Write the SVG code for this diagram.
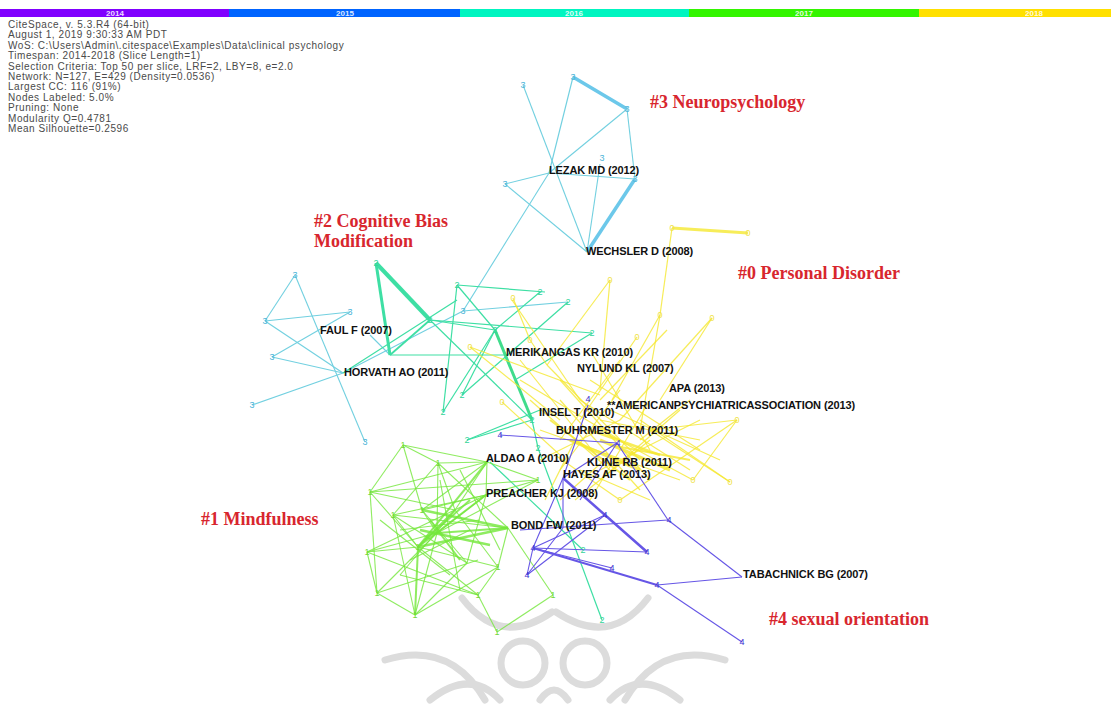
<svg xmlns="http://www.w3.org/2000/svg" width="1111" height="718" viewBox="0 0 1111 718">
<style>
.info{font-family:"Liberation Sans",Arial,sans-serif;font-size:10px;fill:#4a4a4a;letter-spacing:0.55px}
.yr{font-family:"Liberation Sans",Arial,sans-serif;font-size:8px;font-weight:bold;fill:#fff;text-anchor:middle;opacity:.85}
.cl{font-family:"Liberation Serif","Times New Roman",serif;font-size:18px;font-weight:bold;fill:#d8262e}
.lb{font-family:"Liberation Sans",Arial,sans-serif;font-size:11px;font-weight:bold;fill:#111;letter-spacing:-0.1px}
.n{font-family:"Liberation Sans",Arial,sans-serif;font-size:9px;text-anchor:middle}
.n0{fill:#efe24a}.n1{fill:#74d83a}.n2{fill:#33d49a}.n3{fill:#4cb4d8}.n4{fill:#3a2fd0}
.e0{stroke:#f6e930;stroke-width:1.2;opacity:.8}
.e1{stroke:#74e83a;stroke-width:1.1;opacity:.8}
.e2{stroke:#3edfa4;stroke-width:1.2}
.e3{stroke:#72d0e0;stroke-width:1.1}
.e4{stroke:#6656e6;stroke-width:1.1}
.wm{fill:none;stroke:#dcdcdc;stroke-width:7;stroke-linecap:round}
</style>
<rect width="1111" height="718" fill="#fff"/>
<g id="watermark">
<circle class="wm" cx="523" cy="663" r="22"/>
<circle class="wm" cx="585" cy="663" r="22"/>
<path class="wm" d="M462 598 Q500 648 552 612"/>
<path class="wm" d="M556 612 Q610 648 648 598"/>
<path class="wm" d="M385 660 Q450 640 485 700"/>
<path class="wm" d="M725 660 Q660 640 625 700"/>
<path class="wm" d="M430 700 Q470 668 500 700"/>
<path class="wm" d="M610 700 Q640 668 680 700"/>
<path class="wm" d="M540 700 Q554 680 568 700"/>
</g>
<g id="timeline">
<rect x="0" y="9" width="229" height="8" fill="#8000ff"/>
<rect x="229" y="9" width="231" height="8" fill="#0064ff"/>
<rect x="460" y="9" width="229" height="8" fill="#00f5c0"/>
<rect x="689" y="9" width="230" height="8" fill="#33f500"/>
<rect x="919" y="9" width="192" height="8" fill="#ffe000"/>
<text class="yr" x="115" y="16">2014</text>
<text class="yr" x="345" y="16">2015</text>
<text class="yr" x="574" y="16">2016</text>
<text class="yr" x="804" y="16">2017</text>
<text class="yr" x="1034" y="16">2018</text>
</g>
<g id="info">
<text class="info" x="8" y="28">CiteSpace, v. 5.3.R4 (64-bit)</text>
<text class="info" x="8" y="38.4">August 1, 2019 9:30:33 AM PDT</text>
<text class="info" x="8" y="48.8">WoS: C:\Users\Admin\.citespace\Examples\Data\clinical psychology</text>
<text class="info" x="8" y="59.2">Timespan: 2014-2018 (Slice Length=1)</text>
<text class="info" x="8" y="69.6">Selection Criteria: Top 50 per slice, LRF=2, LBY=8, e=2.0</text>
<text class="info" x="8" y="80">Network: N=127, E=429 (Density=0.0536)</text>
<text class="info" x="8" y="90.4">Largest CC: 116 (91%)</text>
<text class="info" x="8" y="100.8">Nodes Labeled: 5.0%</text>
<text class="info" x="8" y="111.2">Pruning: None</text>
<text class="info" x="8" y="121.6">Modularity Q=0.4781</text>
<text class="info" x="8" y="132">Mean Silhouette=0.2596</text>
</g>
<g id="connectors">
<!-- cluster 3 -->
<line class="e3" x1="523" y1="85" x2="587" y2="252"/>
<line class="e3" x1="573" y1="77" x2="627" y2="109" style="stroke-width:3.5;stroke:#6cc8ea"/>
<line class="e3" x1="573" y1="77" x2="549" y2="173"/>
<line class="e3" x1="627" y1="109" x2="549" y2="173"/>
<line class="e3" x1="627" y1="109" x2="635" y2="179"/>
<line class="e3" x1="549" y1="173" x2="635" y2="179"/>
<line class="e3" x1="505" y1="184" x2="549" y2="173"/>
<line class="e3" x1="505" y1="184" x2="587" y2="252"/>
<line class="e3" x1="600" y1="164" x2="587" y2="252"/>
<line class="e3" x1="635" y1="179" x2="587" y2="252" style="stroke-width:3.5;stroke:#6cc8ea"/>
<line class="e3" x1="549" y1="173" x2="463" y2="311"/>
<line class="e3" x1="463" y1="311" x2="343" y2="373"/>
<line class="e3" x1="295" y1="275" x2="265" y2="321"/>
<line class="e3" x1="295" y1="275" x2="365" y2="442"/>
<line class="e3" x1="265" y1="321" x2="350" y2="312"/>
<line class="e3" x1="265" y1="321" x2="343" y2="373"/>
<line class="e3" x1="350" y1="312" x2="272" y2="357"/>
<line class="e3" x1="272" y1="357" x2="343" y2="373"/>
<line class="e3" x1="252" y1="405" x2="343" y2="373"/>
<line class="e3" x1="370" y1="335" x2="390" y2="355"/>
<line class="e3" x1="463" y1="311" x2="568" y2="302"/>
<!-- cluster 2 -->
<line class="e2" x1="376" y1="263" x2="430" y2="320" style="stroke-width:4"/>
<line class="e2" x1="376" y1="263" x2="390" y2="355" style="stroke-width:3"/>
<line class="e2" x1="390" y1="355" x2="430" y2="320" style="stroke-width:1.8"/>
<line class="e2" x1="430" y1="320" x2="495" y2="330"/>
<line class="e2" x1="430" y1="320" x2="532" y2="420"/>
<line class="e2" x1="390" y1="355" x2="507" y2="355"/>
<line class="e2" x1="457" y1="285" x2="545" y2="292"/>
<line class="e2" x1="457" y1="285" x2="443" y2="412"/>
<line class="e2" x1="457" y1="285" x2="495" y2="330"/>
<line class="e2" x1="540" y1="292" x2="495" y2="330"/>
<line class="e2" x1="568" y1="302" x2="462" y2="395"/>
<line class="e2" x1="495" y1="330" x2="532" y2="420" style="stroke-width:3;stroke:#40dc8c"/>
<line class="e2" x1="462" y1="395" x2="495" y2="330"/>
<line class="e2" x1="443" y1="412" x2="495" y2="330"/>
<line class="e2" x1="467" y1="440" x2="532" y2="420"/>
<line class="e2" x1="467" y1="440" x2="540" y2="410"/>
<line class="e2" x1="532" y1="420" x2="538" y2="448"/>
<line class="e2" x1="538" y1="448" x2="602" y2="620"/>
<line class="e2" x1="592" y1="333" x2="515" y2="380"/>
<line class="e2" x1="430" y1="320" x2="592" y2="333"/>
<line class="e2" x1="343" y1="373" x2="457" y2="300"/>
<line class="e2" x1="490" y1="462" x2="583" y2="550"/>
<!-- cluster 0 -->
<line class="e0" x1="672" y1="228" x2="748" y2="233" style="stroke-width:3"/>
<line class="e0" x1="672" y1="228" x2="660" y2="315"/>
<line class="e0" x1="660" y1="315" x2="612" y2="400"/>
<line class="e0" x1="712" y1="318" x2="620" y2="420"/>
<line class="e0" x1="610" y1="280" x2="547" y2="365"/>
<line class="e0" x1="610" y1="280" x2="600" y2="390"/>
<line class="e0" x1="513" y1="298" x2="530" y2="340"/>
<line class="e0" x1="530" y1="340" x2="547" y2="365"/>
<line class="e0" x1="637" y1="337" x2="580" y2="420"/>
<line class="e0" x1="667" y1="330" x2="600" y2="400"/>
<line class="e0" x1="547" y1="365" x2="640" y2="460"/>
<line class="e0" x1="502" y1="402" x2="560" y2="455"/>
<line class="e0" x1="470" y1="347" x2="560" y2="420"/>
<line class="e0" x1="737" y1="420" x2="650" y2="430"/>
<line class="e0" x1="737" y1="420" x2="693" y2="480"/>
<line class="e0" x1="737" y1="420" x2="620" y2="500"/>
<line class="e0" x1="730" y1="482" x2="650" y2="430"/>
<line class="e0" x1="693" y1="480" x2="600" y2="430"/>
<line class="e0" x1="580" y1="400" x2="690" y2="470"/>
<line class="e0" x1="560" y1="380" x2="650" y2="480"/>
<line class="e0" x1="600" y1="420" x2="700" y2="440"/>
<line class="e0" x1="620" y1="390" x2="560" y2="470"/>
<line class="e0" x1="650" y1="400" x2="590" y2="500"/>
<line class="e0" x1="680" y1="410" x2="600" y2="480"/>
<line class="e0" x1="540" y1="430" x2="680" y2="480"/>
<line class="e0" x1="570" y1="440" x2="640" y2="470" style="stroke-width:3"/>
<line class="e0" x1="520" y1="380" x2="620" y2="440"/>
<line class="e0" x1="520" y1="360" x2="600" y2="460"/>
<line class="e0" x1="620" y1="360" x2="560" y2="440"/>
<line class="e0" x1="600" y1="440" x2="670" y2="470" style="stroke-width:3"/>
<line class="e0" x1="530" y1="400" x2="610" y2="470"/>
<line class="e0" x1="470" y1="347" x2="600" y2="395"/>
<line class="e0" x1="590" y1="380" x2="700" y2="450"/>
<line class="e0" x1="610" y1="410" x2="720" y2="460"/>
<line class="e0" x1="555" y1="455" x2="620" y2="500"/>
<line class="e0" x1="580" y1="470" x2="650" y2="500"/>
<line class="e0" x1="640" y1="420" x2="730" y2="482"/>
<line class="e0" x1="512" y1="300" x2="580" y2="400"/>
<line class="e0" x1="575" y1="440" x2="545" y2="500"/>
<line class="e0" x1="610" y1="455" x2="560" y2="500"/>
<line class="e0" x1="590" y1="430" x2="660" y2="455" style="stroke-width:2.5"/>
<line class="e0" x1="610" y1="445" x2="690" y2="460" style="stroke-width:2"/>
<line class="e0" x1="560" y1="400" x2="640" y2="490"/>
<line class="e0" x1="600" y1="470" x2="700" y2="420"/>
<line class="e0" x1="640" y1="440" x2="690" y2="400"/>
<line class="e0" x1="660" y1="315" x2="640" y2="430"/>
<line class="e0" x1="712" y1="318" x2="660" y2="400"/>
<line class="e0" x1="540" y1="460" x2="620" y2="420"/>
<line class="e0" x1="575" y1="500" x2="650" y2="440"/>
<line class="e0" x1="590" y1="350" x2="650" y2="450"/>
<line class="e0" x1="550" y1="420" x2="630" y2="480" style="stroke-width:2"/>
<!-- cluster 1 -->
<line class="e1" x1="403" y1="445" x2="370" y2="492"/>
<line class="e1" x1="403" y1="445" x2="487" y2="462"/>
<line class="e1" x1="403" y1="445" x2="422" y2="510"/>
<line class="e1" x1="438" y1="463" x2="393" y2="515"/>
<line class="e1" x1="438" y1="463" x2="487" y2="462"/>
<line class="e1" x1="438" y1="463" x2="508" y2="528"/>
<line class="e1" x1="438" y1="463" x2="437" y2="533"/>
<line class="e1" x1="370" y1="492" x2="487" y2="462"/>
<line class="e1" x1="370" y1="492" x2="538" y2="480"/>
<line class="e1" x1="370" y1="492" x2="418" y2="547"/>
<line class="e1" x1="487" y1="462" x2="422" y2="510"/>
<line class="e1" x1="487" y1="462" x2="486" y2="495"/>
<line class="e1" x1="487" y1="462" x2="418" y2="547" style="stroke-width:2"/>
<line class="e1" x1="393" y1="515" x2="508" y2="528"/>
<line class="e1" x1="393" y1="515" x2="486" y2="495"/>
<line class="e1" x1="422" y1="510" x2="508" y2="528" style="stroke-width:2.5"/>
<line class="e1" x1="422" y1="510" x2="467" y2="563"/>
<line class="e1" x1="418" y1="547" x2="508" y2="528" style="stroke-width:2.5"/>
<line class="e1" x1="418" y1="547" x2="367" y2="552"/>
<line class="e1" x1="418" y1="547" x2="415" y2="615" style="stroke-width:2"/>
<line class="e1" x1="418" y1="547" x2="498" y2="567"/>
<line class="e1" x1="418" y1="547" x2="486" y2="495" style="stroke-width:2"/>
<line class="e1" x1="367" y1="552" x2="377" y2="593"/>
<line class="e1" x1="367" y1="552" x2="437" y2="533"/>
<line class="e1" x1="367" y1="552" x2="478" y2="595"/>
<line class="e1" x1="377" y1="593" x2="415" y2="615"/>
<line class="e1" x1="377" y1="593" x2="437" y2="533"/>
<line class="e1" x1="377" y1="593" x2="478" y2="560"/>
<line class="e1" x1="415" y1="615" x2="467" y2="563"/>
<line class="e1" x1="415" y1="615" x2="437" y2="533"/>
<line class="e1" x1="478" y1="595" x2="498" y2="567"/>
<line class="e1" x1="478" y1="595" x2="418" y2="547"/>
<line class="e1" x1="497" y1="632" x2="478" y2="595"/>
<line class="e1" x1="497" y1="632" x2="553" y2="595"/>
<line class="e1" x1="553" y1="595" x2="508" y2="528"/>
<line class="e1" x1="437" y1="533" x2="508" y2="528" style="stroke-width:2"/>
<line class="e1" x1="437" y1="533" x2="486" y2="495"/>
<line class="e1" x1="437" y1="533" x2="538" y2="480"/>
<line class="e1" x1="467" y1="563" x2="486" y2="495"/>
<line class="e1" x1="467" y1="563" x2="393" y2="515"/>
<line class="e1" x1="455" y1="510" x2="370" y2="492"/>
<line class="e1" x1="455" y1="510" x2="418" y2="547" style="stroke-width:2"/>
<line class="e1" x1="455" y1="510" x2="498" y2="567"/>
<line class="e1" x1="455" y1="510" x2="487" y2="462"/>
<line class="e1" x1="498" y1="567" x2="508" y2="528"/>
<line class="e1" x1="403" y1="445" x2="438" y2="463"/>
<line class="e1" x1="422" y1="510" x2="437" y2="533"/>
<line class="e1" x1="393" y1="515" x2="418" y2="547"/>
<line class="e1" x1="367" y1="552" x2="486" y2="495"/>
<line class="e1" x1="415" y1="615" x2="498" y2="567"/>
<line class="e1" x1="400" y1="575" x2="455" y2="510"/>
<line class="e1" x1="400" y1="575" x2="478" y2="595"/>
<line class="e1" x1="538" y1="480" x2="486" y2="495"/>
<line class="e1" x1="422" y1="510" x2="486" y2="495"/>
<line class="e1" x1="420" y1="530" x2="490" y2="545" style="stroke-width:2.5"/>
<line class="e1" x1="425" y1="540" x2="470" y2="500" style="stroke-width:2"/>
<line class="e1" x1="430" y1="520" x2="460" y2="560" style="stroke-width:2"/>
<line class="e1" x1="400" y1="530" x2="480" y2="520"/>
<line class="e1" x1="410" y1="560" x2="470" y2="530"/>
<line class="e1" x1="380" y1="520" x2="450" y2="575"/>
<line class="e1" x1="440" y1="480" x2="460" y2="590"/>
<line class="e1" x1="370" y1="492" x2="377" y2="593"/>
<line class="e1" x1="393" y1="515" x2="415" y2="615"/>
<line class="e1" x1="438" y1="463" x2="455" y2="510"/>
<line class="e1" x1="487" y1="462" x2="538" y2="480"/>
<line class="e1" x1="460" y1="470" x2="500" y2="550"/>
<!-- cluster 4 -->
<line class="e4" x1="500" y1="435" x2="617" y2="443"/>
<line class="e4" x1="588" y1="405" x2="563" y2="478"/>
<line class="e4" x1="617" y1="443" x2="563" y2="478"/>
<line class="e4" x1="617" y1="443" x2="668" y2="520"/>
<line class="e4" x1="563" y1="478" x2="533" y2="548"/>
<line class="e4" x1="563" y1="478" x2="647" y2="552" style="stroke-width:2.5"/>
<line class="e4" x1="605" y1="515" x2="647" y2="552"/>
<line class="e4" x1="605" y1="515" x2="527" y2="575"/>
<line class="e4" x1="533" y1="548" x2="527" y2="575"/>
<line class="e4" x1="533" y1="548" x2="647" y2="552"/>
<line class="e4" x1="533" y1="548" x2="612" y2="568"/>
<line class="e4" x1="533" y1="548" x2="657" y2="585" style="stroke-width:2"/>
<line class="e4" x1="520" y1="530" x2="668" y2="520"/>
<line class="e4" x1="668" y1="520" x2="742" y2="577"/>
<line class="e4" x1="657" y1="585" x2="742" y2="577"/>
<line class="e4" x1="657" y1="585" x2="742" y2="642"/>
<line class="e4" x1="605" y1="515" x2="533" y2="548"/>
<line class="e4" x1="563" y1="528" x2="527" y2="575"/>
<line class="e4" x1="563" y1="478" x2="563" y2="528"/>
<line class="e4" x1="617" y1="443" x2="580" y2="500"/>
</g>
<g id="nodes">
<g id="c3a"><text class="n n3" x="523" y="88">3</text></g>
<g id="c3b"><text class="n n3" x="573" y="80">3</text></g>
<g id="c3c"><text class="n n3" x="627" y="112">3</text></g>
<g id="c3d"><text class="n n3" x="602" y="161">3</text></g>
<g id="c3e"><text class="n n3" x="635" y="182">3</text></g>
<g id="c3f"><text class="n n3" x="505" y="187">3</text></g>
<g id="c3g"><text class="n n3" x="463" y="314">3</text></g>
<g id="c3h"><text class="n n3" x="295" y="278">3</text></g>
<g id="c3i"><text class="n n3" x="350" y="315">3</text></g>
<g id="c3j"><text class="n n3" x="265" y="324">3</text></g>
<g id="c3k"><text class="n n3" x="272" y="360">3</text></g>
<g id="c3l"><text class="n n3" x="252" y="408">3</text></g>
<g id="c3m"><text class="n n3" x="365" y="445">3</text></g>
<g id="c2a"><text class="n n2" x="376" y="266">2</text></g>
<g id="c2b"><text class="n n2" x="430" y="323">2</text></g>
<g id="c2d"><text class="n n2" x="457" y="288">2</text></g>
<g id="c2e"><text class="n n2" x="495" y="333">2</text></g>
<g id="c2f"><text class="n n2" x="540" y="295">2</text></g>
<g id="c2g"><text class="n n2" x="568" y="305">2</text></g>
<g id="c2h"><text class="n n2" x="592" y="336">2</text></g>
<g id="c2i"><text class="n n2" x="462" y="398">2</text></g>
<g id="c2j"><text class="n n2" x="443" y="415">2</text></g>
<g id="c2k"><text class="n n2" x="467" y="443">2</text></g>
<g id="c2l"><text class="n n2" x="532" y="423">2</text></g>
<g id="c2m"><text class="n n2" x="538" y="451">2</text></g>
<g id="c2n"><text class="n n2" x="583" y="553">2</text></g>
<g id="c2o"><text class="n n2" x="602" y="623">2</text></g>
<g id="c0a"><text class="n n0" x="610" y="283">0</text></g>
<g id="c0b"><text class="n n0" x="660" y="318">0</text></g>
<g id="c0c"><text class="n n0" x="712" y="321">0</text></g>
<g id="c0d"><text class="n n0" x="513" y="301">0</text></g>
<g id="c0e"><text class="n n0" x="530" y="343">0</text></g>
<g id="c0f"><text class="n n0" x="637" y="340">0</text></g>
<g id="c0g"><text class="n n0" x="502" y="405">0</text></g>
<g id="c0h"><text class="n n0" x="737" y="423">0</text></g>
<g id="c0i"><text class="n n0" x="730" y="485">0</text></g>
<g id="c0j"><text class="n n0" x="693" y="483">0</text></g>
<g id="c0k"><text class="n n0" x="672" y="231">0</text></g>
<g id="c0l"><text class="n n0" x="748" y="236">0</text></g>
<g id="c0m"><text class="n n0" x="470" y="350">0</text></g>
<g id="c0n"><text class="n n0" x="620" y="503">0</text></g>
<g id="c1a"><text class="n n1" x="403" y="448">1</text></g>
<g id="c1b"><text class="n n1" x="438" y="466">1</text></g>
<g id="c1c"><text class="n n1" x="370" y="495">1</text></g>
<g id="c1d"><text class="n n1" x="538" y="483">1</text></g>
<g id="c1e"><text class="n n1" x="393" y="518">1</text></g>
<g id="c1f"><text class="n n1" x="422" y="513">1</text></g>
<g id="c1g"><text class="n n1" x="418" y="550">1</text></g>
<g id="c1h"><text class="n n1" x="367" y="555">1</text></g>
<g id="c1i"><text class="n n1" x="498" y="570">1</text></g>
<g id="c1j"><text class="n n1" x="377" y="596">1</text></g>
<g id="c1k"><text class="n n1" x="478" y="598">1</text></g>
<g id="c1l"><text class="n n1" x="415" y="618">1</text></g>
<g id="c1m"><text class="n n1" x="497" y="635">1</text></g>
<g id="c1n"><text class="n n1" x="553" y="598">1</text></g>
<g id="c4a"><text class="n n4" x="500" y="438">4</text></g>
<g id="c4b"><text class="n n4" x="618" y="446">4</text></g>
<g id="c4c"><text class="n n4" x="588" y="402">4</text></g>
<g id="c4d"><text class="n n4" x="605" y="518">4</text></g>
<g id="c4e"><text class="n n4" x="533" y="551">4</text></g>
<g id="c4f"><text class="n n4" x="527" y="578">4</text></g>
<g id="c4g"><text class="n n4" x="647" y="555">4</text></g>
<g id="c4h"><text class="n n4" x="612" y="571">4</text></g>
<g id="c4i"><text class="n n4" x="669" y="523">4</text></g>
<g id="c4j"><text class="n n4" x="657" y="588">4</text></g>
<g id="c4k"><text class="n n4" x="742" y="645">4</text></g>
<g id="lezak"><text class="lb" x="549" y="174">LEZAK MD (2012)</text></g>
<g id="wechsler"><text class="lb" x="586" y="255">WECHSLER D (2008)</text></g>
<g id="faul"><text class="lb" x="320" y="334">FAUL F (2007)</text></g>
<g id="horvath"><text class="lb" x="344" y="376">HORVATH AO (2011)</text></g>
<g id="merikangas"><text class="lb" x="506" y="356">MERIKANGAS KR (2010)</text></g>
<g id="nylund"><text class="lb" x="577" y="372">NYLUND KL (2007)</text></g>
<g id="apa"><text class="lb" x="669" y="392">APA (2013)</text></g>
<g id="american"><text class="lb" x="607" y="409">**AMERICANPSYCHIATRICASSOCIATION (2013)</text></g>
<g id="insel"><text class="lb" x="539" y="416">INSEL T (2010)</text></g>
<g id="buhrmester"><text class="lb" x="556" y="434">BUHRMESTER M (2011)</text></g>
<g id="aldao"><text class="lb" x="486" y="462">ALDAO A (2010)</text></g>
<g id="kline"><text class="lb" x="587" y="466">KLINE RB (2011)</text></g>
<g id="hayes"><text class="lb" x="563" y="478">HAYES AF (2013)</text></g>
<g id="preacher"><text class="lb" x="486" y="497">PREACHER KJ (2008)</text></g>
<g id="bond"><text class="lb" x="511" y="529">BOND FW (2011)</text></g>
<g id="tabachnick"><text class="lb" x="743" y="578">TABACHNICK BG (2007)</text></g>
</g>
<g id="clusters">
<text class="cl" x="650" y="108">#3 Neuropsychology</text>
<text class="cl" x="314" y="227">#2 Cognitive Bias</text>
<text class="cl" x="314" y="247">Modification</text>
<text class="cl" x="738" y="279">#0 Personal Disorder</text>
<text class="cl" x="201" y="525">#1 Mindfulness</text>
<text class="cl" x="769" y="625">#4 sexual orientation</text>
</g>
</svg>
